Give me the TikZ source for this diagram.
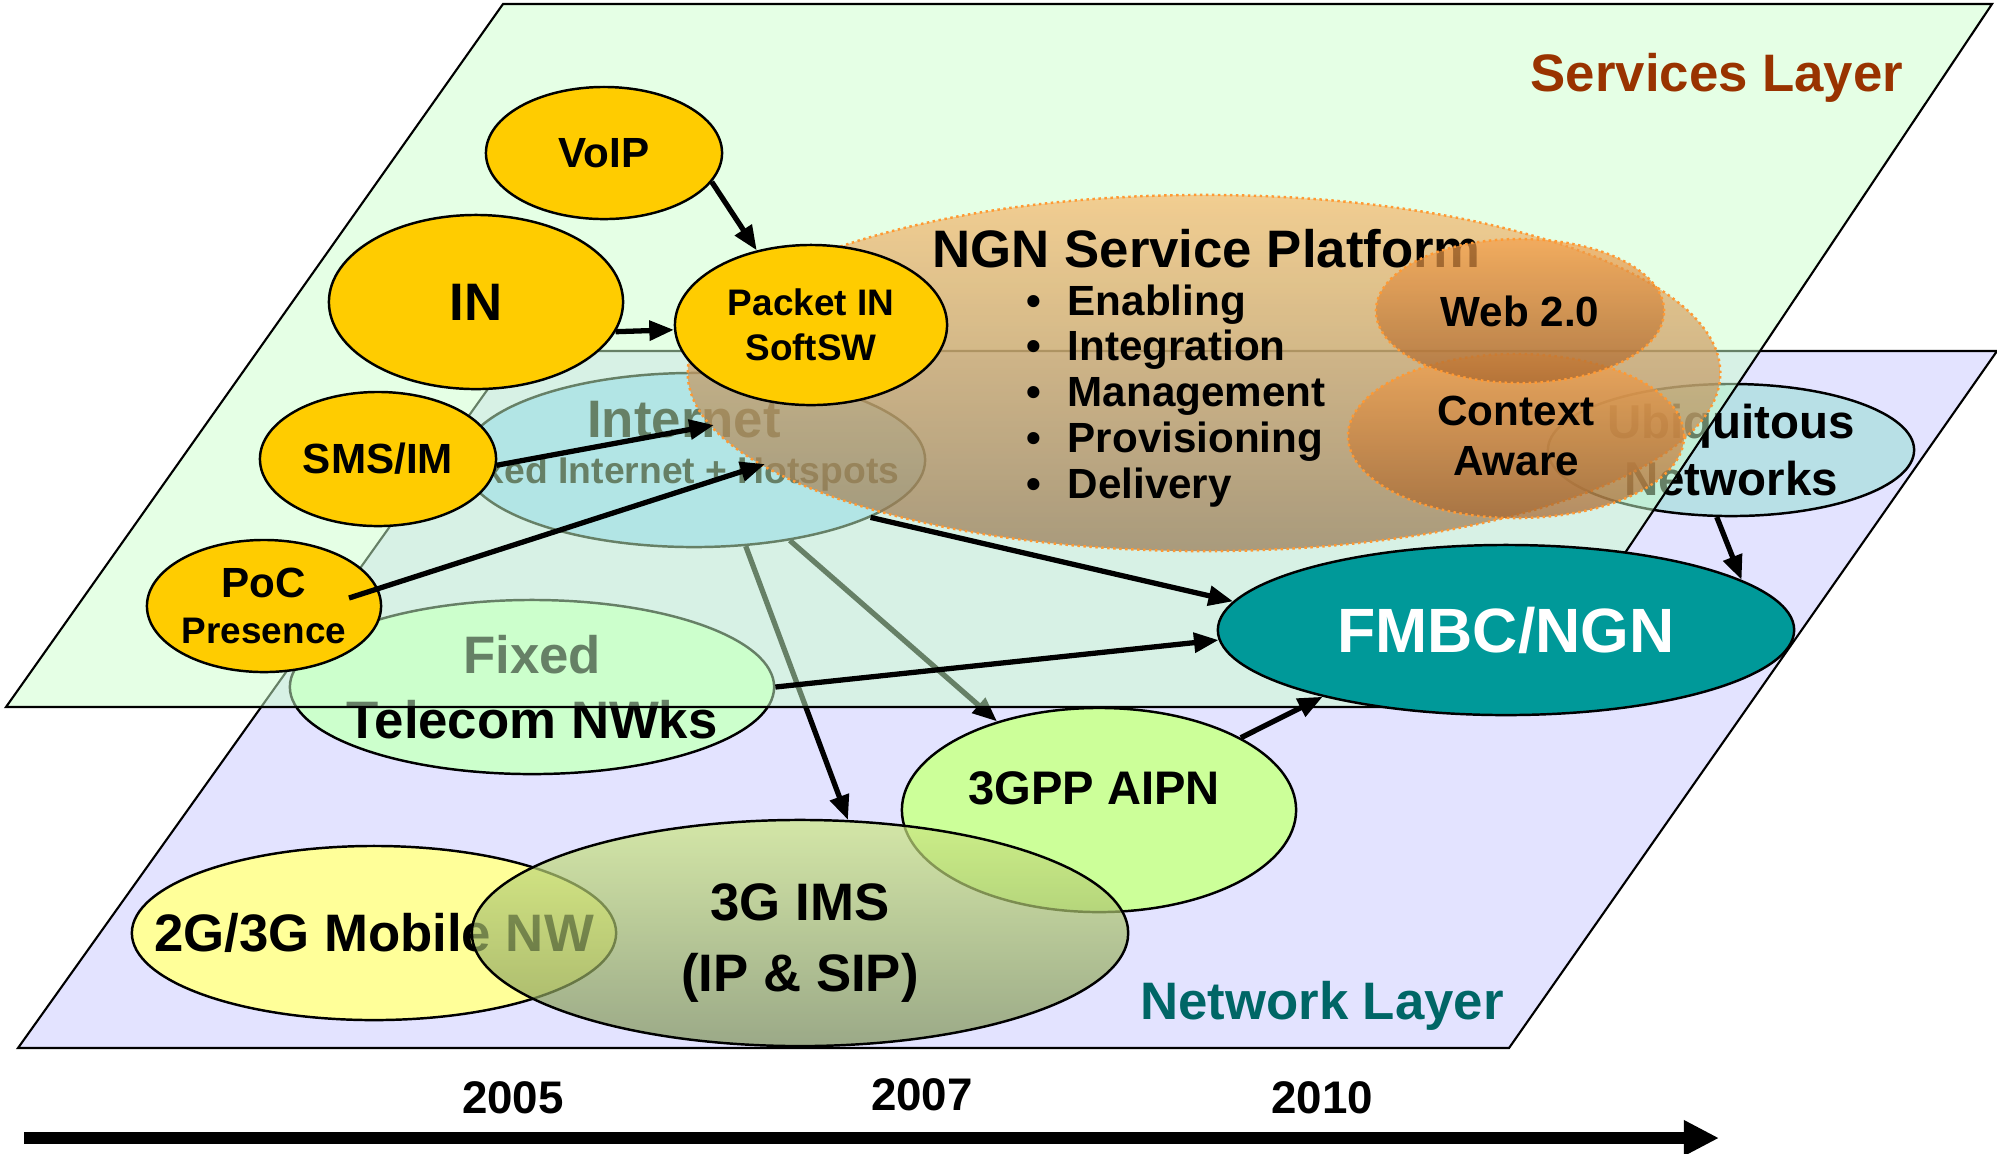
\documentclass[tikz,border=0pt]{standalone}
\usepackage{fontspec}
\setmainfont{Liberation Sans}
\usetikzlibrary{positioning, arrows.meta, shapes.geometric}

\definecolor{svcyellow}{RGB}{255,204,0}
\definecolor{svcgreen}{RGB}{204,255,204}
\definecolor{netblue}{RGB}{227,227,255}
\definecolor{inetblue}{RGB}{153,204,255}
\definecolor{ubiblue}{RGB}{184,224,230}
\definecolor{fixgreen}{RGB}{204,255,204}
\definecolor{mobyellow}{RGB}{255,255,153}
\definecolor{aipngreen}{RGB}{204,255,153}
\definecolor{imstop}{RGB}{205,232,130}
\definecolor{imsbot}{RGB}{125,145,85}
\definecolor{ngntop}{RGB}{247,185,110}
\definecolor{ngnbot}{RGB}{150,118,80}
\definecolor{webtop}{RGB}{245,160,75}
\definecolor{webbot}{RGB}{165,100,45}
\definecolor{fmbcteal}{RGB}{0,153,153}
\definecolor{svcbrown}{RGB}{153,51,0}
\definecolor{netteal}{RGB}{0,102,102}
\definecolor{dotorange}{RGB}{255,153,51}

\newcommand{\fsz}[2]{\fontsize{#1}{#2}\selectfont}

\begin{document}
\begin{tikzpicture}[x=0.01cm, y=-0.01cm,
  blob/.style={ellipse, draw=black, line width=0.7pt, inner sep=0pt, align=center, font=\bfseries},
  svc/.style={blob, fill=svcyellow},
  plat/.style={ellipse, draw=dotorange, densely dotted, line width=0.7pt, inner sep=0pt,
    fill opacity=0.7, text opacity=1, align=center, font=\bfseries},
  txt/.style={inner sep=0pt, font=\bfseries},
  arr/.style={line width=1.5pt, -{Triangle[length=7pt, width=5.5pt]}},
  layer/.style={draw=black, line width=0.6pt}
]
  \useasboundingbox (0,0) rectangle (1997,1153);

  % network layer plane
  \filldraw[layer, fill=netblue] (515,351) -- (1997,351) -- (1509,1048) -- (18,1048) -- cycle;

  % network ellipses, the upper ones seen through the services plane
  \node[blob, fill=inetblue, minimum width=4.62cm, minimum height=1.74cm] (inet) at (694,460) {};
  \node[txt, anchor=base, font=\bfseries\fsz{15pt}{18pt}] (inetname) at (684,437) {Internet};
  \node[txt, anchor=base, font=\bfseries\fsz{10.6pt}{13pt}] (inetsub) at (675,483) {Fixed Internet + Hotspots};
  \node[blob, fill=ubiblue, minimum width=3.66cm, minimum height=1.32cm,
    font=\bfseries\fsz{13.5pt}{16pt}] (ubi) at (1731,450) {Ubiquitous\\Networks};
  \node[blob, fill=fixgreen, minimum width=4.84cm, minimum height=1.74cm,
    label={[txt, align=center, font=\bfseries\fsz{15pt}{18.5pt}]center:Fixed\\Telecom NWks}] (fixed) at (532,687) {};
  \node[blob, fill=mobyellow, minimum width=4.84cm, minimum height=1.74cm,
    label={[txt, font=\bfseries\fsz{15pt}{18pt}]center:2G/3G Mobile NW}] (mobile) at (374,933) {};
  \node[blob, fill=aipngreen, minimum width=3.94cm, minimum height=2.04cm] (aipn) at (1099,810) {};
  \node[txt, anchor=base, font=\bfseries\fsz{13.4pt}{16pt}] (aipnname) at (1094,804) {3GPP AIPN};
  \node[blob, top color=imstop, bottom color=imsbot, fill opacity=0.7,
    minimum width=6.56cm, minimum height=2.26cm,
    label={[txt, align=center, yshift=-0.1cm, font=\bfseries\fsz{15pt}{20pt}]center:3G IMS\\(IP \& SIP)}] (ims) at (800,933) {};

  % arrows running under the services plane
  \draw[arr] (inet.-59) -- (ims.67);
  \draw[arr] (inet.-40) -- (aipn.139);

  % services layer plane (translucent)
  \filldraw[layer, fill=svcgreen, fill opacity=0.5] (503,4) -- (1992,4) -- (1522,707) -- (6,707) -- cycle;

  \node[blob, fill=fmbcteal, text=white, minimum width=5.76cm, minimum height=1.70cm,
    font=\bfseries\fsz{17.8pt}{21pt}] (fmbc) at (1506,630) {FMBC/NGN};

  % plane titles
  \node[txt, anchor=base, text=svcbrown, font=\bfseries\fsz{15pt}{18pt}] (svctitle) at (1717,91) {Services Layer};
  \node[txt, anchor=base, text=netteal, font=\bfseries\fsz{15pt}{18pt}] (nettitle) at (1322,1019) {Network Layer};

  % NGN service platform
  \node[plat, top color=ngntop, bottom color=ngnbot, minimum width=10.32cm, minimum height=3.56cm] (ngn) at (1204,373) {};
  \node[txt, anchor=base west, font=\bfseries\fsz{15pt}{18pt}] (ngntitle) at (932,267) {NGN Service Platform};
  \foreach \word [count=\i] in {Enabling, Integration, Management, Provisioning, Delivery}
    \node[txt, anchor=base west, font=\bfseries\fsz{12pt}{14pt}] (ngnitem\i) at (1067,{315+45.75*(\i-1)})
      {\llap{\textbullet\hspace{7.5pt}}\word};
  \node[plat, top color=webtop, bottom color=webbot, minimum width=3.36cm, minimum height=1.64cm,
    font=\bfseries\fsz{12pt}{14.2pt}] (ctx) at (1516,436) {Context\\Aware};
  \node[plat, top color=webtop, bottom color=webbot, minimum width=2.88cm, minimum height=1.44cm,
    font=\bfseries\fsz{12pt}{14pt}] (web) at (1520,311) {Web 2.0};

  % service nodes
  \node[svc, minimum width=2.36cm, minimum height=1.32cm, font=\bfseries\fsz{12pt}{14pt}] (voip) at (604,153) {VoIP};
  \node[svc, minimum width=2.94cm, minimum height=1.74cm, font=\bfseries\fsz{15pt}{18pt}] (intnw) at (476,302) {IN};
  \node[svc, minimum width=2.72cm, minimum height=1.60cm, font=\bfseries\fsz{10.5pt}{12.8pt}] (pktin) at (811,325) {Packet IN\\SoftSW};
  \node[svc, minimum width=2.36cm, minimum height=1.34cm, font=\bfseries\fsz{12pt}{14pt}] (sms) at (378,459) {SMS/IM};
  \node[svc, minimum width=2.34cm, minimum height=1.32cm, font=\bfseries\fsz{10.5pt}{13.2pt}] (poc) at (264,606)
    {{\fsz{12pt}{13.2pt}PoC}\\Presence};

  % service arrows
  \draw[arr] (voip.-15) -- (pktin.126);
  \draw[arr] (intnw.-12) -- (pktin.182);
  \draw[arr] (sms.-3) -- ([shift={(20,-35)}]inet.center);
  \draw[arr] ([shift={(85,-8)}]poc.center) -- ([shift={(71,4)}]inet.center);
  \draw[arr] (inet.-18.5) -- (fmbc.174.4);
  \draw[arr] (fixed.0) -- (fmbc.182.4);
  \draw[arr] (aipn.27.4) -- (fmbc.200);
  \draw[arr] (ubi.258.5) -- (fmbc.12.2);

  % time line
  \coordinate (tstart) at (24,1138);
  \coordinate (tend) at (1719,1138);
  \draw[line width=3.5pt, -{Triangle[length=10pt, width=9.5pt]}] (tstart) -- (tend);
  \foreach \yr/\x/\y in {2005/513/1113, 2007/922/1110, 2010/1322/1113}
    \node[txt, anchor=base, font=\bfseries\fsz{13pt}{15pt}] (yr\yr) at (\x,\y) {\yr};
\end{tikzpicture}
\end{document}
